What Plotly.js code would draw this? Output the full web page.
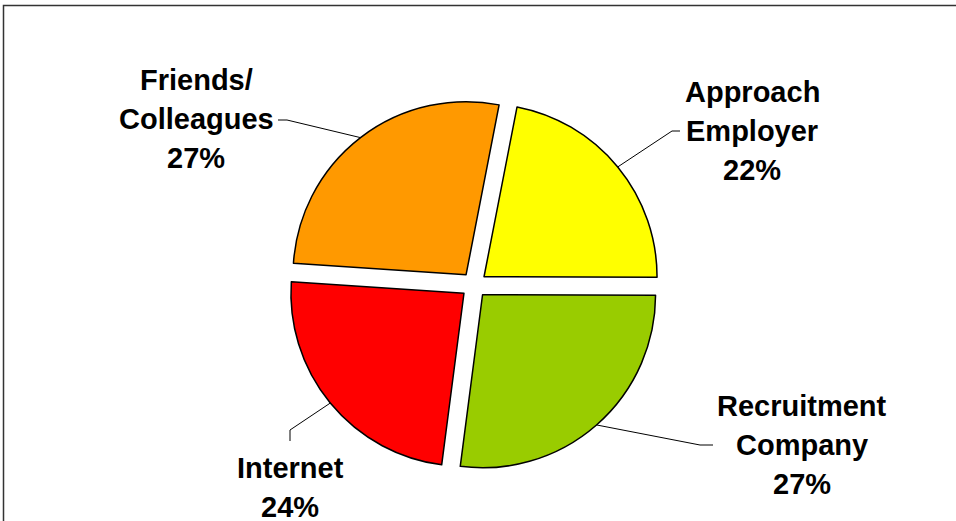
<!DOCTYPE html>
<html>
<head>
<meta charset="utf-8">
<script src="https://cdn.plot.ly/plotly-3.0.1.min.js"></script>
<style>html,body{margin:0;padding:0;background:#fff;}#chart{width:956px;height:521px;}</style>
</head>
<body>
<div id="chart"></div>
<script>
// ---- data ----
const categories = ["Approach Employer", "Recruitment Company", "Internet", "Friends/Colleagues"];
const labelLines = [["Approach", "Employer"], ["Recruitment", "Company"], ["Internet"], ["Friends/", "Colleagues"]];
const shares = [22, 27, 24, 27];
const sliceColors = ["#FFFF00", "#99CC00", "#FF0000", "#FF9900"];

// ---- layout constants ----
const W = 956, H = 521;
const pullFrac = 0.075;
const rotationDeg = 11;
const domX = [288 / W, 660 / W];
const domY = [1 - 471 / H, 1 - 99 / H];
const fontSize = 29;
const lineGap = 39;
// label placement: centre x, first line y, leader elbow and end (pixels)
const labelPlace = [
  {x: 752, y0: 92, elbow: [672, 131], end: [680, 131]},
  {x: 802, y0: 406, elbow: [700, 445], end: [713, 445]},
  {x: 290, y0: 468, elbow: [290, 430], end: [290, 441]},
  {x: 196, y0: 80, elbow: [287, 120], end: [278, 120]}
];

const px = x => x / W;
const py = y => 1 - y / H;

// pie geometry replicating Plotly's own pie scaling
const boxW = W * (domX[1] - domX[0]);
const boxH = H * (domY[1] - domY[0]);
const r = Math.min(boxW, boxH) / 2 / (1 + pullFrac);
const cx = W * (domX[0] + domX[1]) / 2;
const cy = H * (1 - domY[0]) - boxH / 2;
const total = shares.reduce((a, b) => a + b, 0);

const shapes = [];
const annotations = [];
let ang = rotationDeg * Math.PI / 180;
shares.forEach((v, i) => {
  const mid = ang + Math.PI * v / total;
  ang += 2 * Math.PI * v / total;
  const sx = Math.sin(mid), sy = -Math.cos(mid);
  const ox = cx + pullFrac * r * sx, oy = cy + pullFrac * r * sy;
  const ex = ox + r * sx, ey = oy + r * sy;
  const lp = labelPlace[i];
  shapes.push({
    type: "path", xref: "paper", yref: "paper",
    path: `M ${px(ex)} ${py(ey)} L ${px(lp.elbow[0])} ${py(lp.elbow[1])} L ${px(lp.end[0])} ${py(lp.end[1])}`,
    line: {color: "#000", width: 1}
  });
  const lines = labelLines[i].concat([Math.round(100 * v / total) + "%"]);
  lines.forEach((t, k) => {
    annotations.push({
      xref: "paper", yref: "paper", x: px(lp.x), y: py(lp.y0 + k * lineGap),
      xanchor: "center", yanchor: "middle", showarrow: false, text: t,
      font: {family: "Liberation Sans, Arial, sans-serif", size: fontSize, color: "#000", weight: 700}
    });
  });
});

// chart frame
shapes.push({
  type: "rect", xref: "paper", yref: "paper",
  x0: px(3.5), x1: px(W + 5), y0: py(H + 5), y1: py(5.5),
  line: {color: "#333", width: 1.5}, fillcolor: "rgba(0,0,0,0)", layer: "below"
});

const trace = {
  type: "pie",
  labels: categories,
  values: shares,
  sort: false,
  direction: "clockwise",
  rotation: rotationDeg,
  pull: shares.map(() => pullFrac),
  marker: {colors: sliceColors, line: {color: "#000", width: 1.5}},
  textinfo: "none",
  hoverinfo: "label+percent",
  automargin: false,
  domain: {x: domX, y: domY},
  showlegend: false
};

Plotly.newPlot("chart", [trace], {
  width: W, height: H,
  margin: {l: 0, r: 0, t: 0, b: 0},
  paper_bgcolor: "#fff",
  showlegend: false,
  shapes: shapes,
  annotations: annotations
}, {displayModeBar: false, staticPlot: true});
</script>
</body>
</html>
